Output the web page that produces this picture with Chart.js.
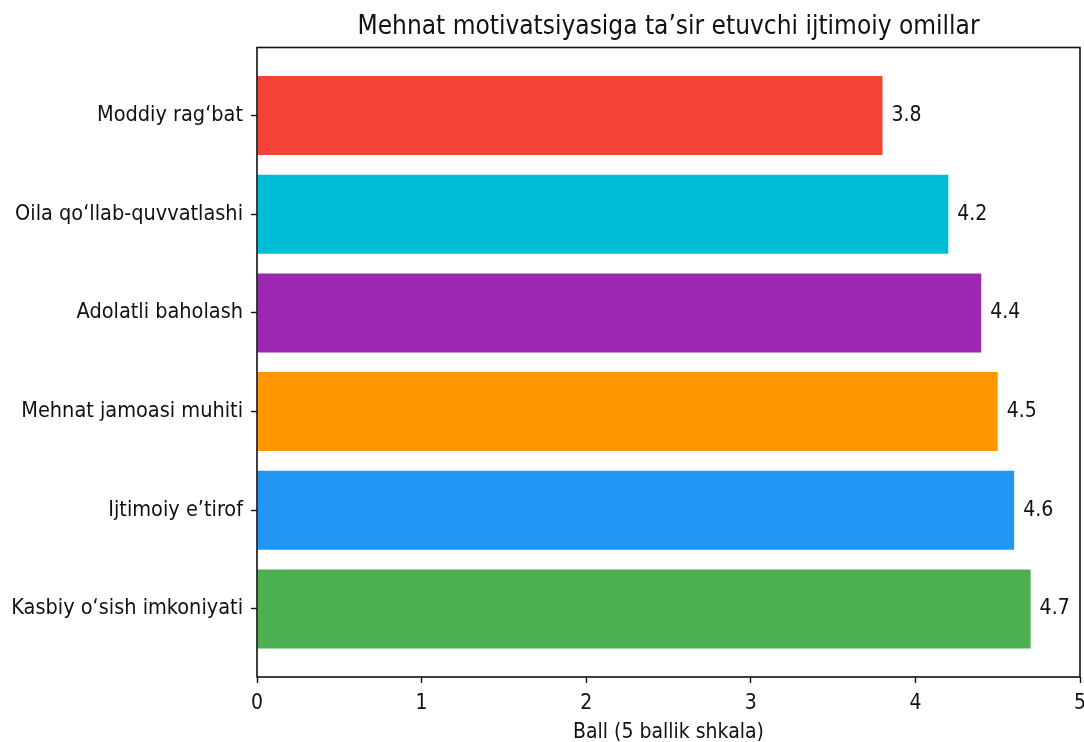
<!DOCTYPE html>
<html>
<head>
<meta charset="utf-8">
<script src="https://cdn.jsdelivr.net/npm/chart.js@4"></script>
<style>
html,body{margin:0;padding:0;background:#fff;}
#wrap{width:1084px;height:742px;}
</style>
</head>
<body>
<div id="wrap"><canvas id="c" width="1084" height="742"></canvas></div>
<script>
const titleText = "Mehnat motivatsiyasiga ta’sir etuvchi ijtimoiy omillar";
const xTitle = "Ball (5 ballik shkala)";
const categories = ["Moddiy rag‘bat","Oila qo‘llab-quvvatlashi","Adolatli baholash","Mehnat jamoasi muhiti","Ijtimoiy e’tirof","Kasbiy o‘sish imkoniyati"];
const values = [3.8, 4.2, 4.4, 4.5, 4.6, 4.7];
const colors = ["#F44336","#00BCD4","#9C27B0","#FF9800","#2196F3","#4CAF50"];
const xTicks = [0,1,2,3,4,5];

const FONT = "'DejaVu Sans Condensed','DejaVu Sans',sans-serif";

const framePlugin = {
  id: 'frame',
  afterDraw(chart){
    const {ctx, chartArea:a} = chart;
    ctx.save();
    ctx.strokeStyle = '#111';
    ctx.lineWidth = 1.6;
    ctx.strokeRect(a.left, a.top, a.right-a.left, a.bottom-a.top);
    ctx.fillStyle = '#111';
    // title
    ctx.font = "26px " + FONT;
    ctx.textAlign = 'center';
    ctx.textBaseline = 'middle';
    ctx.fillText(titleText, (a.left+a.right)/2, 27);
    // x axis title
    ctx.font = "21px " + FONT;
    ctx.textBaseline = 'alphabetic';
    ctx.fillText(xTitle, (a.left+a.right)/2, 738);
    // value labels
    ctx.textBaseline = 'middle';
    ctx.font = "21px " + FONT;
    ctx.textAlign = 'left';
    const xs = chart.scales.x, ys = chart.scales.y;
    values.forEach((v,i)=>{
      ctx.fillText(v.toFixed(1), xs.getPixelForValue(v)+9, ys.getPixelForValue(i));
    });
    ctx.restore();
  }
};

new Chart(document.getElementById('c'), {
  type: 'bar',
  data: {
    datasets: [{
      data: values.map((v,i)=>({x:v, y:i})),
      backgroundColor: colors,
      borderWidth: 0,
      barPercentage: 0.8,
      categoryPercentage: 1.0
    }]
  },
  options: {
    indexAxis: 'y',
    responsive: false,
    animation: false,
    devicePixelRatio: 1,
    layout: {padding: {top: 47.5, right: 4, left: 0, bottom: 0}},
    plugins: {legend:{display:false}, tooltip:{enabled:false}},
    scales: {
      x: {
        type: 'linear',
        min: 0, max: 5,
        afterBuildTicks: s => { s.ticks = xTicks.map(v=>({value:v})); },
        grid: {drawOnChartArea:false, drawTicks:true, tickLength:6, tickColor:'#111', tickWidth:1.4},
        border: {display:false},
        ticks: {color:'#111', font:{family:FONT, size:21}, padding:8, maxRotation:0},
        afterFit: s => { s.height = 742 - 677; s.paddingRight = 0; s.paddingLeft = 0; }
      },
      y: {
        type: 'linear',
        reverse: true,
        offset: false,
        min: -0.69, max: 5.69,
        afterBuildTicks: s => { s.ticks = categories.map((c,i)=>({value:i})); },
        grid: {offset:false, drawOnChartArea:false, drawTicks:true, tickLength:6, tickColor:'#111', tickWidth:1.4},
        border: {display:false},
        ticks: {color:'#111', font:{family:FONT, size:21.5}, padding:8, callback: v => categories[v] ?? ''},
        afterFit: s => { s.width = 257; s.paddingTop = 0; s.paddingBottom = 0; }
      }
    }
  },
  plugins: [framePlugin]
});
</script>
</body>
</html>
